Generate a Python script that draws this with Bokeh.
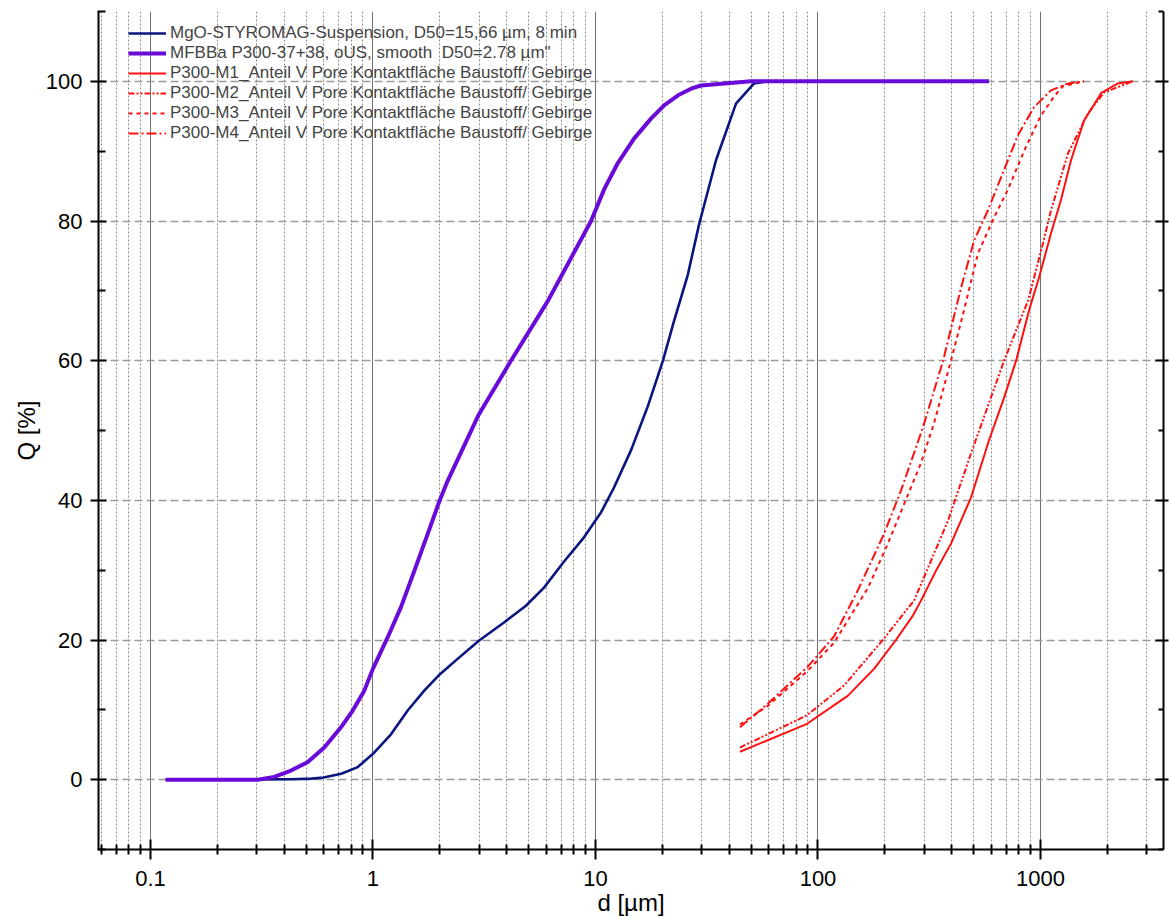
from bokeh.plotting import figure
from bokeh.models import FixedTicker, LinearAxis, Legend, LegendItem, Range1d
from bokeh.embed import file_html
from bokeh.resources import INLINE

# ---------------- data ----------------
mgo_d = [0.117, 0.43, 0.53, 0.60, 0.72, 0.854, 1.0, 1.205, 1.432, 1.70, 2.0, 2.40, 2.99, 3.88,
         4.87, 5.87, 7.21, 8.88, 10.6, 12.1, 14.5, 17.2, 20.1, 22.5, 26.0, 29.2, 34.8, 42.8,
         51.6, 59.6]
mgo_q = [0, 0.05, 0.15, 0.3, 0.85, 1.8, 3.7, 6.5, 9.9, 12.75, 15.1, 17.3, 19.9, 22.5,
         24.9, 27.5, 31.2, 34.7, 38.3, 41.8, 47.3, 53.5, 60.0, 65.6, 72.3, 79.5, 88.7, 96.8,
         99.7, 100]

mfb_d = [0.117, 0.304, 0.36, 0.428, 0.508, 0.604, 0.718, 0.811, 0.914, 1.0, 1.165, 1.336,
         1.534, 1.762, 2.0, 2.166, 2.49, 2.99, 4.17, 6.12, 9.55, 10.96, 12.6, 14.9, 17.8,
         20.4, 23.5, 26.9, 29.8, 50.0, 587]
mfb_q = [0, 0, 0.4, 1.3, 2.5, 4.6, 7.5, 9.9, 12.75, 15.9, 20.4, 24.7,
         29.9, 35.2, 40.1, 42.8, 46.9, 52.3, 60.0, 68.6, 80.0, 84.6, 88.3, 91.8, 94.7,
         96.6, 98.0, 98.95, 99.4, 100, 100]

m1_d = [44.6, 89.3, 136, 179, 224, 267, 290, 340, 396, 487, 587, 686, 777, 888, 985,
        1114, 1236, 1371, 1570, 1871, 2228, 2604]
m1_q = [4.0, 8.0, 12.0, 15.9, 20.0, 23.5, 25.6, 30.0, 33.8, 40.4, 48.6, 54.7, 60.0, 67.2, 71.9,
        78.2, 83.0, 88.7, 94.4, 98.3, 99.7, 100]

m2_d = [44.6, 89, 131, 198, 254, 270, 384, 487, 686, 879, 1026, 1114, 1330, 1634, 1928, 2600]
m2_q = [4.6, 9.2, 13.5, 20.2, 24.6, 25.6, 37.1, 46.7, 60.0, 68.6, 76.8, 81.5, 89.7, 95.4, 98.4, 100]

m3_d = [44.6, 59.6, 90, 118, 168, 206, 290, 332, 396, 453, 524, 618, 714, 843, 1000,
        1150, 1262, 1570]
m3_q = [7.9, 10.6, 15.6, 19.6, 27.5, 33.8, 45.3, 51.0, 60.0, 67.2, 75.4, 80.5, 84.5, 90.0, 95.0,
        97.8, 99.3, 100]

m4_d = [44.6, 59.6, 90, 118, 151, 198, 236, 296, 365, 440, 503, 580, 664, 792, 935,
        1114, 1330, 1570]
m4_q = [7.5, 10.9, 16.2, 20.5, 27.1, 35.2, 41.4, 50.4, 60.0, 70.5, 77.2, 81.5, 86.2, 92.3, 96.3,
        98.7, 99.7, 100]

series_labels = [
    "MgO-STYROMAG-Suspension, D50=15,66 µm, 8 min",
    "MFBBa P300-37+38, oUS, smooth  D50=2.78 µm\"",
    "P300-M1_Anteil V Pore Kontaktfläche Baustoff/ Gebirge",
    "P300-M2_Anteil V Pore Kontaktfläche Baustoff/ Gebirge",
    "P300-M3_Anteil V Pore Kontaktfläche Baustoff/ Gebirge",
    "P300-M4_Anteil V Pore Kontaktfläche Baustoff/ Gebirge",
]

x_ticks = [0.1, 1, 10, 100, 1000]
x_tick_labels = ["0.1", "1", "10", "100", "1000"]
y_ticks = [0, 20, 40, 60, 80, 100]
y_tick_labels = ["0", "20", "40", "60", "80", "100"]
y_minor = [-10, 10, 30, 50, 70, 90, 110]
x_minor = [m * 10.0 ** e for e in range(-2, 4) for m in range(2, 10)
           if 0.0584 <= m * 10.0 ** e <= 3571]

FONT = "Liberation Sans"

p = figure(width=1169, height=919, x_axis_type="log",
           x_range=Range1d(0.0584, 3571), y_range=Range1d(-10, 110),
           output_backend="svg", toolbar_location=None,
           min_border_left=98, min_border_right=6, min_border_top=11, min_border_bottom=70)
p.outline_line_color = None
p.background_fill_color = "white"

xt = FixedTicker(ticks=x_ticks, minor_ticks=x_minor)
yt = FixedTicker(ticks=y_ticks, minor_ticks=y_minor)
p.xaxis.ticker = xt
p.yaxis.ticker = yt
p.xgrid.ticker = xt
p.ygrid.ticker = yt
p.xaxis.major_label_overrides = {t: s for t, s in zip(x_ticks, x_tick_labels)}
p.yaxis.major_label_overrides = {t: s for t, s in zip(y_ticks, y_tick_labels)}

# grids
p.xgrid.grid_line_color = "#707070"
p.xgrid.grid_line_width = 1
p.xgrid.minor_grid_line_color = "#8a8a8a"
p.xgrid.minor_grid_line_dash = "2 2"
p.xgrid.minor_grid_line_width = 1
p.ygrid.grid_line_color = "#9a9a9a"
p.ygrid.grid_line_dash = "8 4"
p.ygrid.grid_line_width = 1.5

for ax in (p.xaxis[0], p.yaxis[0]):
    ax.axis_line_width = 2
    ax.axis_line_color = "black"
    ax.major_tick_line_width = 2
    ax.minor_tick_line_width = 2
    ax.major_tick_line_color = "black"
    ax.minor_tick_line_color = "black"
    ax.major_label_text_font = FONT
    ax.major_label_text_font_size = "22px"
    ax.major_label_text_color = "black"
    ax.axis_label_text_font = FONT
    ax.axis_label_text_font_size = "24px"
    ax.axis_label_text_font_style = "normal"
    ax.axis_label_text_color = "black"

p.xaxis.major_tick_in = 10
p.xaxis.major_tick_out = 10
p.xaxis.minor_tick_in = 5
p.xaxis.minor_tick_out = 5
p.xaxis.major_label_standoff = 11
p.xaxis.axis_label = "d [µm]"
p.xaxis.axis_label_standoff = 0

p.yaxis.major_tick_in = 8
p.yaxis.major_tick_out = 8
p.yaxis.minor_tick_in = 7
p.yaxis.minor_tick_out = 1
p.yaxis.major_label_standoff = 8
p.yaxis.axis_label = "Q [%]"
p.yaxis.axis_label_standoff = 3

right = LinearAxis(ticker=yt, axis_line_width=2, major_tick_line_width=2, minor_tick_line_width=2,
                   major_tick_in=8, major_tick_out=5, minor_tick_in=5, minor_tick_out=0,
                   major_label_overrides={t: "" for t in y_ticks},
                   major_label_text_color=None, major_label_standoff=0)
p.add_layout(right, "right")

# curves
RED = "#ff1010"
r_m1 = p.line(m1_d, m1_q, line_color=RED, line_width=2)
r_m2 = p.line(m2_d, m2_q, line_color=RED, line_width=2, line_dash="6 2 2 2 2 2")
r_m3 = p.line(m3_d, m3_q, line_color=RED, line_width=2, line_dash="4 4")
r_m4 = p.line(m4_d, m4_q, line_color=RED, line_width=2, line_dash="10 3 2 3")
r_mgo = p.line(mgo_d, mgo_q, line_color="#0b1580", line_width=2.6, line_join="round")
r_mfb = p.line(mfb_d, mfb_q, line_color="#6a0ad8", line_width=4, line_join="round")

legend = Legend(items=[LegendItem(label=l, renderers=[r]) for l, r in
                       zip(series_labels, [r_mgo, r_mfb, r_m1, r_m2, r_m3, r_m4])],
                location=(30, 706), margin=0, padding=0, spacing=0,
                label_text_font=FONT, label_text_font_size="17px",
                label_height=20, glyph_height=20, glyph_width=38, label_standoff=4,
                border_line_color=None, background_fill_alpha=0)
p.add_layout(legend)

open("out.html", "w").write(file_html(p, INLINE))
